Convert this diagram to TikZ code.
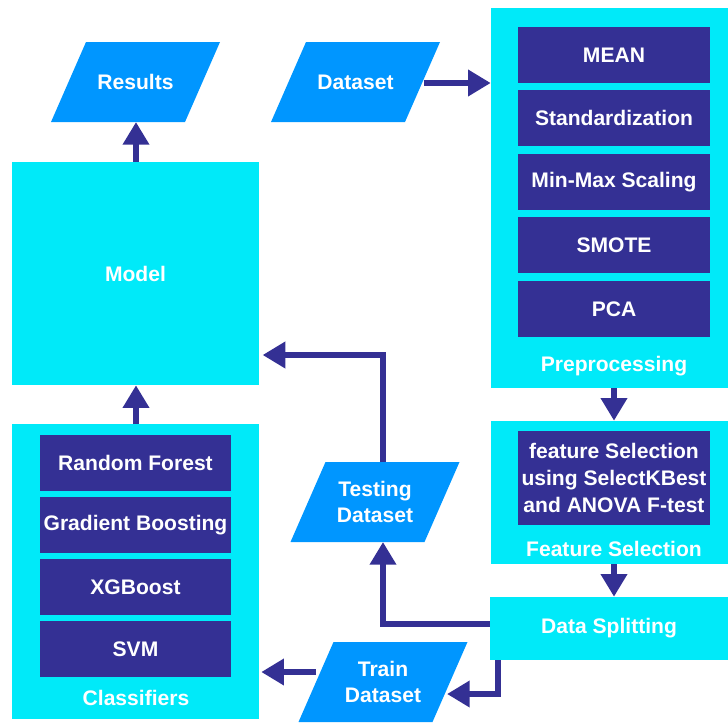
\documentclass[tikz,border=0pt]{standalone}
\usepackage{fontspec}
\setmainfont{Liberation Sans}
\usetikzlibrary{arrows.meta,fit}
\definecolor{cyanbox}{RGB}{0,234,249}
\definecolor{parablue}{RGB}{0,150,255}
\definecolor{darkbox}{RGB}{52,48,148}
\newcommand\paral[4]{%
  \fill[parablue] ({#2-84.5},{#3+40}) -- ({#2-49.5},{#3-40}) -- ({#2+84.5},{#3-40}) -- ({#2+49.5},{#3+40}) -- cycle;
  \node[txt] (#1) at (#2,#3) {#4};}
\begin{document}
\begin{tikzpicture}[x=0.75pt,y=-0.75pt,
  txt/.style={text=white,font=\fontsize{15.8}{20}\selectfont\bfseries,align=center,inner sep=0pt},
  outerbox/.style={fill=cyanbox,draw=none,inner sep=0pt},
  innerbox/.style={fill=darkbox,draw=none,inner sep=0pt},
  arr/.style={draw=darkbox,line width=4.6pt,-{Triangle[width=19pt,length=17pt]}},
]
\useasboundingbox (0,0) rectangle (728,722);

% Parallelograms
\paral{results}{135.5}{82}{Results}
\paral{dataset}{355.5}{82}{Dataset}
\paral{testing}{375}{502}{\fontsize{15.8}{21.5}\selectfont Testing\\Dataset}
\paral{train}{383}{682}{Train\\Dataset}

% Model
\node[outerbox,fit={(12,162)(259,385)}] (model) {};
\node[txt] (modeltxt) at (model.center) {Model};

% Classifiers
\node[outerbox,fit={(12,424)(259,719)}] (classifiers) {};
\node[innerbox,fit={(40,435)(231,491)}] (rf) {};
\node[txt] at (rf.center) {Random Forest};
\node[innerbox,fit={(40,497)(231,553)}] (gb) {};
\node[txt] at (gb.center) {Gradient Boosting};
\node[innerbox,fit={(40,559)(231,615)}] (xgb) {};
\node[txt] at (xgb.center) {XGBoost};
\node[innerbox,fit={(40,621)(231,677)}] (svm) {};
\node[txt] at (svm.center) {SVM};
\node[txt] (classlbl) at (136,698) {Classifiers};

% Preprocessing
\node[outerbox,fit={(491,8)(728,388)}] (prep) {};
\node[innerbox,fit={(518,27)(710,83)}] (mean) {};
\node[txt] at (mean.center) {MEAN};
\node[innerbox,fit={(518,90)(710,146)}] (std) {};
\node[txt] at (std.center) {Standardization};
\node[innerbox,fit={(518,154)(710,210)}] (minmax) {};
\node[txt] at (minmax.center) {Min-Max Scaling};
\node[innerbox,fit={(518,217)(710,273)}] (smote) {};
\node[txt] at (smote.center) {SMOTE};
\node[innerbox,fit={(518,281)(710,337)}] (pca) {};
\node[txt] at (pca.center) {PCA};
\node[txt] (preplbl) at (614,366) {Preprocessing};

% Feature selection
\node[outerbox,fit={(491,421)(728,564)}] (feat) {};
\node[innerbox,fit={(518,431)(710,525)}] (featin) {};
\node[txt] at (featin.center) {feature Selection\\using SelectKBest\\and ANOVA F-test};
\node[txt] (featlbl) at (614,549) {Feature Selection};

% Data splitting
\node[outerbox,fit={(490,597)(728,660)}] (split) {};
\node[txt] at (split.center) {Data Splitting};

% Connector end points
\coordinate (resultsS) at (136,122);
\coordinate (datasetE) at (424,83);
\coordinate (testingS) at (383,542);
\coordinate (testingN) at (383,462);
\coordinate (trainE) at (447,694);
\coordinate (trainW) at (316,672);

% Arrows
\draw[arr] (model.north -| resultsS) -- (resultsS);
\draw[arr] (classifiers.north -| resultsS) -- (model.south -| resultsS);
\draw[arr] (datasetE) -- (datasetE -| prep.west);
\draw[arr] (prep.south -| preplbl) -- (feat.north -| preplbl);
\draw[arr] (feat.south -| preplbl) -- (split.north -| preplbl);
\draw[arr] (split.west |- 0,624) -| (testingS);
\draw[arr] (testingN) |- ([xshift=2.5pt]model.east |- 0,355);
\draw[arr] (split.south -| 498,0) |- (trainE);
\draw[arr] (trainW) -- ([xshift=1.5pt]classifiers.east |- trainW);
\end{tikzpicture}
\end{document}
